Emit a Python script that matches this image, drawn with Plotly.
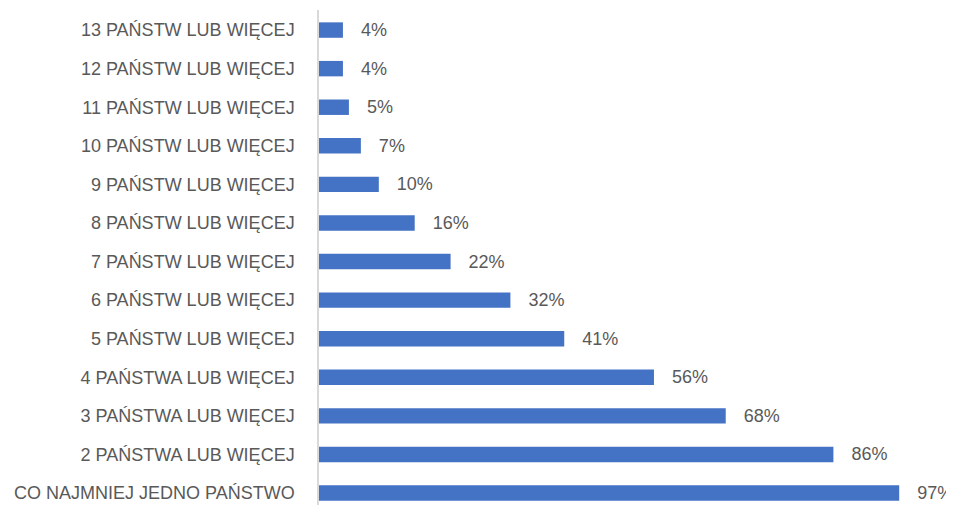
import plotly.graph_objects as go

categories = [
    "CO NAJMNIEJ JEDNO PAŃSTWO",
    "2 PAŃSTWA LUB WIĘCEJ",
    "3 PAŃSTWA LUB WIĘCEJ",
    "4 PAŃSTWA LUB WIĘCEJ",
    "5 PAŃSTW LUB WIĘCEJ",
    "6 PAŃSTW LUB WIĘCEJ",
    "7 PAŃSTW LUB WIĘCEJ",
    "8 PAŃSTW LUB WIĘCEJ",
    "9 PAŃSTW LUB WIĘCEJ",
    "10 PAŃSTW LUB WIĘCEJ",
    "11 PAŃSTW LUB WIĘCEJ",
    "12 PAŃSTW LUB WIĘCEJ",
    "13 PAŃSTW LUB WIĘCEJ",
]
values = [0.97, 0.86, 0.68, 0.56, 0.41, 0.32, 0.22, 0.16, 0.10, 0.07, 0.05, 0.04, 0.04]
labels = [f"{round(v * 100)}%" for v in values]

font_family = "Liberation Sans, Arial, sans-serif"
grey = "#595959"

fig = go.Figure()
fig.add_trace(go.Bar(
    x=values,
    y=categories,
    orientation="h",
    marker=dict(color="#4472C4", line=dict(width=0)),
    text=["\u00a0\u00a0\u00a0" + t for t in labels],
    textposition="outside",
    constraintext="none",
    cliponaxis=False,
    textfont=dict(family=font_family, size=18, color=grey),
    width=0.4,
    hoverinfo="skip",
))

# page body has an 8px margin, so the figure is shifted a little up/left
fig.update_layout(
    width=954,
    height=505,
    margin=dict(l=311, r=0, t=2, b=0, autoexpand=False),
    plot_bgcolor="white",
    paper_bgcolor="white",
    showlegend=False,
    xaxis=dict(
        range=[0, 1.075],
        visible=False,
        showgrid=False,
        zeroline=False,
    ),
    yaxis=dict(
        range=[-0.518, 12.52],
        automargin=False,
        showgrid=False,
        zeroline=False,
        showline=True,
        linecolor="#D9D9D9",
        linewidth=1.5,
        ticks="",
        ticklabelstandoff=19,
        tickfont=dict(family=font_family, size=18, color=grey),
        categoryorder="array",
        categoryarray=categories,
    ),
)

fig.write_html("out.html")
